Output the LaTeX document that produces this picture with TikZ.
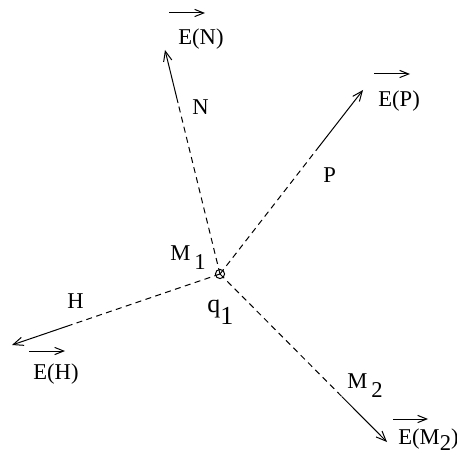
\documentclass[tikz,border=0pt]{standalone}
\usepackage{fontspec}
\setmainfont{Liberation Serif}
\usetikzlibrary{arrows.meta,calc}

\newcommand\lowsub[2][4.5pt]{\raisebox{-#1}{#2}}

\begin{document}
\begin{tikzpicture}[x=0.5pt, y=-0.5pt,
    lbl/.style={anchor=base west, inner sep=0pt, font=\fontsize{11.3}{13}\selectfont},
    dashline/.style={line width=0.5pt, dash pattern=on 3pt off 2.2pt},
    vecline/.style={line width=0.5pt, -{Straight Barb[length=5pt, width=4.2pt]}},
    vecbar/.style={line width=0.5pt, -{Straight Barb[length=4.5pt, width=3.6pt]}},
    dot/.style={circle, draw, line width=0.5pt, minimum size=4.6pt, inner sep=0pt},
]
\useasboundingbox (0,0) rectangle (456,459);
\clip (0,0) rectangle (456,459);

% Centre point
\node[dot] (q) at (220,274) {};

% Tips and where the solid part begins
\coordinate (ntip) at (165,50);
\coordinate (ptip) at (363,90);
\coordinate (htip) at (12,345);
\coordinate (mtip) at (387,442);
\coordinate (nmid) at ($(q.center)!0.763!(ntip)$);
\coordinate (pmid) at ($(q.center)!0.671!(ptip)$);
\coordinate (hmid) at ($(q.center)!0.711!(htip)$);
\coordinate (mmid) at ($(q.center)!0.730!(mtip)$);

% Rays
\draw[dashline] (q.center) -- (nmid);
\draw[vecline] (nmid) -- (ntip);
\draw[dashline] (q.center) -- (pmid);
\draw[vecline] (pmid) -- (ptip);
\draw[dashline] (q.center) -- (hmid);
\draw[vecline] (hmid) -- (htip);
\draw[dashline] (q.center) -- (mmid);
\draw[vecline] (mmid) -- (mtip);

% Ray labels
\node[lbl] (nlab) at (192,115) {N};
\node[lbl] (plab) at (323,183) {P};
\node[lbl] (hlab) at (67,308) {H};
\node[lbl] (m2lab) at (347,388) {M\,\lowsub{2}};
\node[lbl] (m1lab) at (170,260) {M\,\lowsub{1}};
\node[lbl, font=\fontsize{13}{15}\selectfont] (qlab) at (207,312) {q\lowsub[6pt]{1}};

% Field labels with vector bars
\node[lbl] (en) at (178,45) {E(N)};
\node[lbl] (ep) at (378,107) {E(P)};
\node[lbl] (eh) at (33,379) {E(H)};
\node[lbl] (em) at (398,444) {E(M\lowsub[3pt]{2})};
\draw[vecbar] ([shift={(-9,-32)}]en.base west) -- ++(36,0);
\draw[vecbar] ([shift={(-4,-33)}]ep.base west) -- ++(36,0);
\draw[vecbar] ([shift={(-4,-28)}]eh.base west) -- ++(36,0);
\draw[vecbar] ([shift={(-5,-25)}]em.base west) -- ++(35,0);
\end{tikzpicture}
\end{document}
